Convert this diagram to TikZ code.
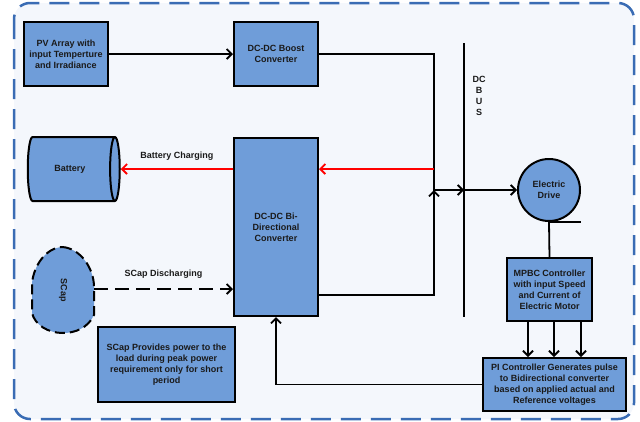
\documentclass[tikz,border=0pt]{standalone}
\usepackage{fontspec}
\setmainfont{Liberation Sans}
\usetikzlibrary{arrows.meta,positioning,shapes.geometric,calc}
\definecolor{boxc}{HTML}{6F9DD9}
\definecolor{framec}{HTML}{3A6CB4}
\definecolor{bgc}{HTML}{F4F7FC}
\definecolor{txtc}{HTML}{1A1A1A}
\definecolor{chargec}{HTML}{FF0000}

\begin{document}
\begin{tikzpicture}[x=1pt, y=-1pt,
  blk/.style={draw, line width=2pt, fill=boxc, align=center, text=txtc,
    font=\fontsize{9}{11}\selectfont\bfseries, inner sep=2pt},
  wire/.style={line width=1.8pt},
  arr/.style={-{Straight Barb[length=5pt,width=10pt]}, line width=1.8pt},
  chargearr/.style={arr, draw=chargec},
  dischargearr/.style={arr, dash pattern=on 14pt off 7pt},
  lbl/.style={font=\fontsize{9}{11}\selectfont\bfseries, text=txtc}
]
  \useasboundingbox (0,0) rectangle (640,421);
  % outer frame
  \draw[framec, line width=2.5pt, dash pattern=on 20pt off 10pt, fill=bgc,
    rounded corners=16pt] (14,3) rectangle (634,419);

  \node[blk, minimum width=84pt, minimum height=64pt] (pv) at (66,54)
    {PV Array with\\input Temperture\\and Irradiance};
  \node[blk, minimum width=84pt, minimum height=64pt] (boost) at (276,54)
    {DC-DC Boost\\Converter};
  \node[blk, minimum width=84pt, minimum height=178pt] (bidir) at (276,227)
    {DC-DC Bi-\\Directional\\Converter};
  \node[blk, shape=cylinder, aspect=0.8, minimum width=64pt, minimum height=92pt]
    (battery) at (70,169) {Battery};
  \node[blk, minimum width=137pt, minimum height=75pt] (note) at (166.5,364.5)
    {SCap Provides power to the\\load during peak power\\requirement only for short\\period};
  \node[blk, circle, minimum size=62pt] (drive) at (549,190) {Electric\\Drive};
  \node[blk, minimum width=85pt, minimum height=63pt] (mpbc) at (549.5,289.5)
    {MPBC Controller\\with input Speed\\and Current of\\Electric Motor};
  \node[blk, minimum width=143pt, minimum height=53pt] (pi) at (554.5,384.5)
    {PI Controller Generates pulse\\to Bidirectional converter\\based on applied actual and\\Reference voltages};

  % supercapacitor
  \draw[fill=boxc, line width=2pt, dash pattern=on 10pt off 5pt]
    (62,247) .. controls (80,248) and (94,268) .. (94,287) -- (94,315)
    .. controls (88,328) and (75,333) .. (63,333)
    .. controls (48,333) and (35,325) .. (32,313) -- (32,283)
    .. controls (34,265) and (46,248) .. (62,247) -- cycle;
  \node[lbl, rotate=-90] (scap) at (63,290) {SCap};
  \coordinate (scapout) at (94,289);

  % DC bus
  \coordinate (bustop) at (464,43);
  \coordinate (busbot) at (464,317);
  \draw[line width=2pt] (bustop) -- (busbot);
  \node[lbl, align=center, inner sep=0pt] (buslbl) at (479,96) {DC\\B\\U\\S};

  \coordinate (jtop) at (434,54);
  \coordinate (jbot) at (434,295);
  \coordinate (jmid) at (434,190);
  \coordinate (jred) at (434,169);
  \coordinate (jbus) at (464,190);

  \draw[arr] (pv) -- (boost);
  \draw[wire] (boost.east) -- (jtop) -- (jbot) -- (bidir.east |- jbot);
  \draw[arr] (jbot) -- (jmid);
  \draw[arr] (jmid) -- (jbus);
  \draw[arr] (jbus) -- (drive.west);
  \draw[chargearr] (jred) -- (bidir.east |- jred);
  \draw[chargearr] (bidir.west |- jred) -- node[above=4pt, lbl] {Battery Charging} (battery.east);
  \draw[dischargearr] (scapout) -- node[above=6pt, lbl] {SCap Discharging} (bidir.west |- scapout);

  \draw[wire] (drive.south) -- (mpbc.north);
  \draw[wire] (drive.south) -- ++(32,0);
  \foreach \dx in {-21.5,4.5,31.5}
    \draw[arr] ([xshift=\dx pt]mpbc.south) -- ([xshift=\dx pt]mpbc.south |- pi.north);
  \draw[arr] (pi.west) -| (bidir.south);
\end{tikzpicture}
\end{document}
